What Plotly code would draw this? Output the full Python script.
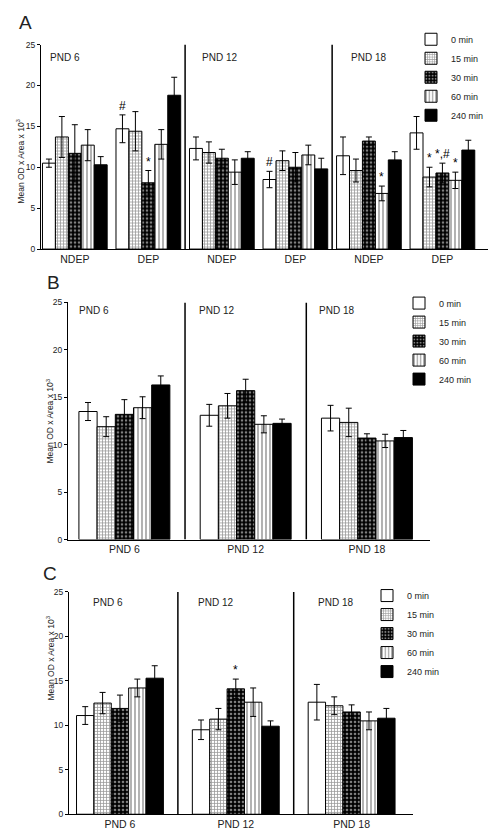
import plotly.graph_objects as go

# ---------------- DATA ----------------
series_names = ["0 min", "15 min", "30 min", "60 min", "240 min"]

# Panel A
a_categories = ["PND 6 NDEP", "PND 6 DEP", "PND 12 NDEP", "PND 12 DEP", "PND 18 NDEP", "PND 18 DEP"]
a_tick_labels = ["NDEP", "DEP", "NDEP", "DEP", "NDEP", "DEP"]
a_0min = [10.5, 14.7, 12.3, 8.5, 11.4, 14.2]
a_15min = [13.7, 14.4, 11.8, 10.8, 9.6, 8.8]
a_30min = [11.7, 8.1, 11.1, 10.0, 13.2, 9.3]
a_60min = [12.7, 12.8, 9.4, 11.5, 6.8, 8.4]
a_240min = [10.3, 18.8, 11.1, 9.8, 10.9, 12.1]
a_0min_err = [0.5, 1.7, 1.4, 1.0, 2.3, 2.0]
a_15min_err = [2.5, 2.4, 1.3, 1.2, 1.4, 1.2]
a_30min_err = [3.5, 1.5, 1.1, 1.8, 0.5, 1.2]
a_60min_err = [1.9, 1.8, 1.5, 1.2, 0.9, 1.0]
a_240min_err = [1.0, 2.2, 0.8, 1.3, 1.0, 1.2]
a_0min_marks = ["", "#", "", "#", "", ""]
a_15min_marks = ["", "", "", "", "", "*"]
a_30min_marks = ["", "*", "", "", "", "*,#"]
a_60min_marks = ["", "", "", "", "*", "*"]
a_240min_marks = ["", "", "", "", "", ""]

# Panel B
b_categories = ["PND 6", "PND 12", "PND 18"]
b_0min = [13.5, 13.1, 12.8]
b_15min = [11.9, 14.1, 12.35]
b_30min = [13.2, 15.7, 10.7]
b_60min = [13.9, 12.15, 10.4]
b_240min = [16.3, 12.25, 10.75]
b_0min_err = [0.95, 1.15, 1.35]
b_15min_err = [1.05, 1.3, 1.5]
b_30min_err = [1.55, 1.2, 0.45]
b_60min_err = [1.15, 0.9, 0.7]
b_240min_err = [0.95, 0.45, 0.75]

# Panel C
c_categories = ["PND 6", "PND 12", "PND 18"]
c_0min = [11.1, 9.5, 12.6]
c_15min = [12.5, 10.7, 12.2]
c_30min = [11.9, 14.1, 11.5]
c_60min = [14.2, 12.6, 10.5]
c_240min = [15.3, 9.9, 10.8]
c_0min_err = [1.0, 1.1, 2.0]
c_15min_err = [1.2, 1.2, 1.0]
c_30min_err = [1.5, 1.1, 0.8]
c_60min_err = [1.0, 1.6, 1.0]
c_240min_err = [1.4, 0.6, 1.1]
c_0min_marks = ["", "", ""]
c_15min_marks = ["", "", ""]
c_30min_marks = ["", "*", ""]
c_60min_marks = ["", "", ""]
c_240min_marks = ["", "", ""]

y_ticks = [0, 5, 10, 15, 20, 25]
y_title = "Mean OD x Area x 10<sup>3</sup>"

# ---------------- STYLE ----------------
W, H = 497, 840
FONT = "Arial, 'Liberation Sans', sans-serif"
TXT = "#222222"


def px(x):
    return x / W


def py(y):
    return 1 - y / H


styles = [
    dict(color="white", pattern=dict(shape="")),
    dict(color="white", pattern=dict(shape="+", fgcolor="#333333", bgcolor="white", size=3, solidity=0.45)),
    dict(color="black", pattern=dict(shape=".", fgcolor="white", bgcolor="black", size=4, solidity=0.35)),
    dict(color="white", pattern=dict(shape="|", fgcolor="black", bgcolor="white", size=4, solidity=0.3)),
    dict(color="black", pattern=dict(shape="")),
]

fig = go.Figure()

panels = [
    dict(cats=a_categories,
         vals=[a_0min, a_15min, a_30min, a_60min, a_240min],
         errs=[a_0min_err, a_15min_err, a_30min_err, a_60min_err, a_240min_err],
         marks=[a_0min_marks, a_15min_marks, a_30min_marks, a_60min_marks, a_240min_marks],
         xa="x", ya="y", legend="legend", group_width=0.88),
    dict(cats=b_categories,
         vals=[b_0min, b_15min, b_30min, b_60min, b_240min],
         errs=[b_0min_err, b_15min_err, b_30min_err, b_60min_err, b_240min_err],
         marks=None,
         xa="x2", ya="y2", legend="legend2", group_width=0.75),
    dict(cats=c_categories,
         vals=[c_0min, c_15min, c_30min, c_60min, c_240min],
         errs=[c_0min_err, c_15min_err, c_30min_err, c_60min_err, c_240min_err],
         marks=[c_0min_marks, c_15min_marks, c_30min_marks, c_60min_marks, c_240min_marks],
         xa="x3", ya="y3", legend="legend3", group_width=0.75),
]

annotations = []
n_series = len(series_names)
for pi, p in enumerate(panels):
    gw = p["group_width"]
    bw = gw / n_series
    for si, name in enumerate(series_names):
        st = styles[si]
        off = -gw / 2 + si * bw
        fig.add_trace(go.Bar(
            x=p["cats"], y=p["vals"][si], name=name,
            xaxis=p["xa"], yaxis=p["ya"],
            legend=p["legend"],
            width=bw, offset=off,
            marker=dict(color=st["color"], pattern=st["pattern"],
                        line=dict(color="black", width=1)),
            error_y=dict(type="data", array=p["errs"][si], visible=True,
                         color="black", thickness=1, width=3),
        ))
        if p["marks"] is not None:
            for ci, mark in enumerate(p["marks"][si]):
                if not mark:
                    continue
                annotations.append(dict(
                    text=mark, xref=p["xa"], yref=p["ya"],
                    x=ci + off + bw / 2, y=p["vals"][si][ci] + p["errs"][si][ci],
                    xanchor="center", yanchor="bottom", yshift=0, showarrow=False,
                    font=dict(family=FONT, size=12, color="black"),
                ))

axis_common = dict(showgrid=False, zeroline=False, showline=True, linecolor="black", linewidth=1)

# Panel geometry (pixels)
# A: x 41..488, y 40..247 ; B: x 68..430, y 301..541 ; C: x 69..413, y 594..819
layout = dict(
    width=W, height=H, margin=dict(l=0, r=0, t=0, b=0),
    paper_bgcolor="white", plot_bgcolor="white",
    barmode="group", bargap=0.12, bargroupgap=0,
    font=dict(family=FONT, size=9, color=TXT),
    xaxis=dict(domain=[px(41), px(488)], anchor="y", range=[-0.46, 5.62],
               tickvals=a_categories, ticktext=a_tick_labels, ticks="",
               tickfont=dict(size=10.5, color=TXT), **axis_common),
    yaxis=dict(domain=[py(247), py(40)], anchor="x", range=[0, 25], tickvals=y_ticks,
               ticks="outside", ticklen=3, tickcolor="black",
               tickfont=dict(size=8.5, color=TXT), **axis_common),
    xaxis2=dict(domain=[px(68), px(430)], anchor="y2", range=[-0.465, 2.52],
                ticks="", tickfont=dict(size=10.5, color=TXT), **axis_common),
    yaxis2=dict(domain=[py(541), py(301)], anchor="x2", range=[0, 25], tickvals=y_ticks,
                ticks="outside", ticklen=3, tickcolor="black",
                tickfont=dict(size=8.5, color=TXT), **axis_common),
    xaxis3=dict(domain=[px(69), px(413)], anchor="y3", range=[-0.44, 2.53],
                ticks="", tickfont=dict(size=10.5, color=TXT), **axis_common),
    yaxis3=dict(domain=[py(819), py(594)], anchor="x3", range=[0, 25], tickvals=y_ticks,
                ticks="outside", ticklen=3, tickcolor="black",
                tickfont=dict(size=8.5, color=TXT), **axis_common),
)
leg_common = dict(xanchor="left", yanchor="top", bgcolor="rgba(0,0,0,0)",
                  font=dict(size=9, color=TXT), itemwidth=30, tracegroupgap=0)
layout["legend"] = dict(x=px(411), y=py(20), **leg_common)
layout["legend2"] = dict(x=px(399), y=py(287), **leg_common)
layout["legend3"] = dict(x=px(367), y=py(583), **leg_common)
fig.update_layout(**layout)

# Separator lines between PND groups
shapes = []
for xr, yr, seps in [("x", "y", [1.5, 3.5]), ("x2", "y2", [0.5, 1.5]), ("x3", "y3", [0.5, 1.5])]:
    for s in seps:
        shapes.append(dict(type="line", xref=xr, yref=yr, x0=s, x1=s, y0=0, y1=25,
                           line=dict(color="black", width=1.5)))
fig.update_layout(shapes=shapes)

# Panel letters
for lab, x, y in [("A", 17, 18), ("B", 45, 281), ("C", 41, 575)]:
    annotations.append(dict(text=lab, x=px(x), y=py(y), xref="paper", yref="paper",
                            xanchor="left", yanchor="middle", showarrow=False,
                            font=dict(size=19, color=TXT)))
# Group labels
for lab, x, y in [("PND 6", 48, 53), ("PND 12", 200, 53), ("PND 18", 349, 53),
                  ("PND 6", 77, 309), ("PND 12", 197, 309), ("PND 18", 317, 309),
                  ("PND 6", 91, 605), ("PND 12", 196, 605), ("PND 18", 316, 605)]:
    annotations.append(dict(text=lab, x=px(x), y=py(y), xref="paper", yref="paper",
                            xanchor="left", yanchor="middle", showarrow=False,
                            font=dict(size=10, color=TXT)))
# Y titles
for x, y in [(13, 113), (43, 421), (43, 706)]:
    annotations.append(dict(text=y_title, x=px(x), y=py(y), xref="paper", yref="paper",
                            textangle=-90, showarrow=False,
                            font=dict(size=8.5, color=TXT)))
fig.update_layout(annotations=annotations)

fig.write_html("out.html", config={"displayModeBar": False},
               post_script="document.body.style.margin='0px';")
